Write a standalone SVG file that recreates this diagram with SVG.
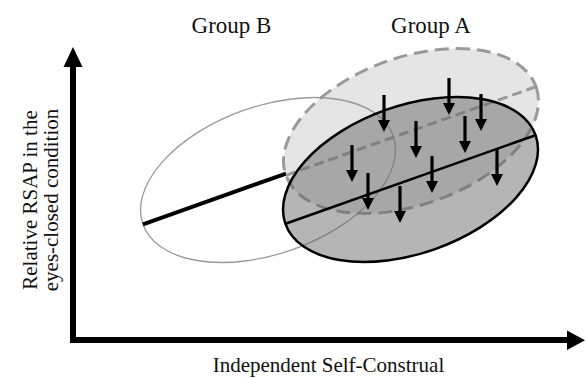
<svg xmlns="http://www.w3.org/2000/svg" xmlns:xlink="http://www.w3.org/1999/xlink" width="585" height="378" viewBox="0 0 585 378">
<style>
.lbl{font-family:"Liberation Serif","Times New Roman",serif;fill:#111;}
</style>
<defs>
<g id="arr">
<rect x="-1.6" y="0" width="3.2" height="27" fill="#000"/>
<polygon points="-6,25 6,25 0,37" fill="#000"/>
</g>
</defs>
<rect width="585" height="378" fill="#fff"/>
<g id="axes">
<line x1="73" y1="64" x2="73" y2="343" stroke="#000" stroke-width="6"/>
<polygon points="63.5,67 82.5,67 73,47" fill="#000"/>
<line x1="70" y1="340" x2="570" y2="340" stroke="#000" stroke-width="6"/>
<polygon points="567,330.5 567,350 585,340.3" fill="#000"/>
</g>
<g id="groupA-before">
<ellipse cx="411" cy="131" rx="132.7" ry="73.8" transform="rotate(-19.5 411 131)" fill="rgba(0,0,0,0.1)" stroke="#9a9a9a" stroke-width="3" stroke-dasharray="14 7"/>
</g>
<g id="groupB">
<ellipse cx="268" cy="180" rx="132.7" ry="73.8" transform="rotate(-19.5 268 180)" fill="none" stroke="#999" stroke-width="1.3"/>
<line x1="143" y1="224.3" x2="286" y2="173.6" stroke="#000" stroke-width="4"/>
</g>
<g id="groupA-before-line">
<line x1="286" y1="175.3" x2="536" y2="86.7" stroke="#999" stroke-width="3" stroke-dasharray="10 5"/>
</g>
<g id="groupA-after">
<ellipse cx="410.5" cy="179.5" rx="132.7" ry="73.8" transform="rotate(-19.5 410.5 179.5)" fill="rgba(101,101,101,0.48)" stroke="#000" stroke-width="2.5"/>
<line x1="285.5" y1="223.8" x2="535.5" y2="135.2" stroke="#000" stroke-width="2.5"/>
</g>
<g id="connectors">
<use xlink:href="#arr" x="384" y="95"/>
<use xlink:href="#arr" x="449" y="78"/>
<use xlink:href="#arr" x="481" y="94"/>
<use xlink:href="#arr" x="416" y="121"/>
<use xlink:href="#arr" x="465" y="116"/>
<use xlink:href="#arr" x="352" y="145"/>
<use xlink:href="#arr" x="432" y="156"/>
<use xlink:href="#arr" x="497" y="149"/>
<use xlink:href="#arr" x="368" y="173"/>
<use xlink:href="#arr" x="400" y="186"/>
</g>
<g id="labels">
<text class="lbl" x="231.5" y="33" font-size="23" text-anchor="middle">Group B</text>
<text class="lbl" x="431" y="33" font-size="23" text-anchor="middle">Group A</text>
<text class="lbl" x="328.5" y="372" font-size="21" text-anchor="middle">Independent Self-Construal</text>
<text class="lbl" transform="translate(37 200) rotate(-90)" font-size="21" text-anchor="middle">Relative RSAP in the</text>
<text class="lbl" transform="translate(58 200) rotate(-90)" font-size="21" text-anchor="middle">eyes-closed condition</text>
</g>
</svg>
